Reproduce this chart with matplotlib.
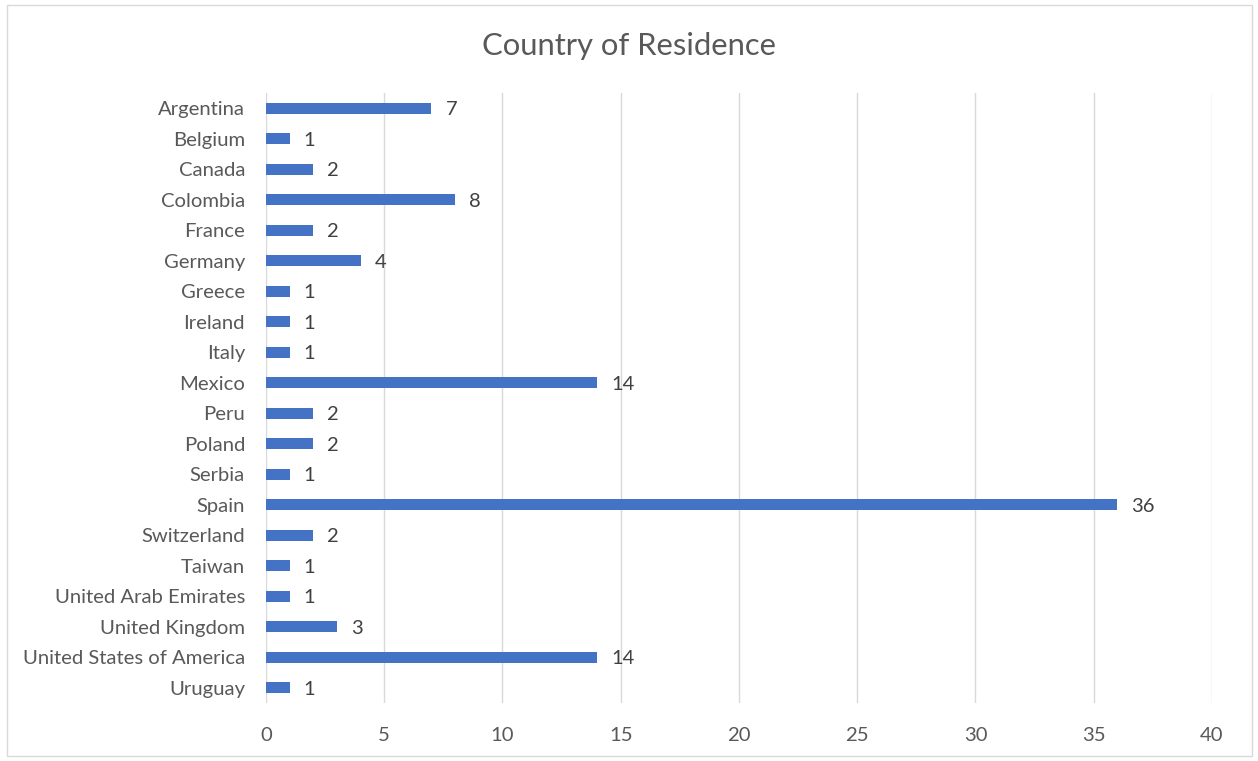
import matplotlib.pyplot as plt
from matplotlib.patches import Rectangle

countries = ["Argentina", "Belgium", "Canada", "Colombia", "France", "Germany",
             "Greece", "Ireland", "Italy", "Mexico", "Peru", "Poland", "Serbia",
             "Spain", "Switzerland", "Taiwan", "United Arab Emirates",
             "United Kingdom", "United States of America", "Uruguay"]
counts = [7, 1, 2, 8, 2, 4, 1, 1, 1, 14, 2, 2, 1, 36, 2, 1, 1, 3, 14, 1]

plt.rcParams["font.family"] = ["Lato", "DejaVu Sans"]
text_color = "#595959"

fig = plt.figure(figsize=(12.58, 7.61), dpi=100)
ax = fig.add_axes([0.2114, 0.0762, 0.752, 0.8016])

y = list(range(len(countries)))
ax.barh(y, counts, height=0.37, color="#4472c4", zorder=3)
for yi, c in zip(y, counts):
    ax.text(c + 0.6, yi, str(c), va="center_baseline", ha="left", fontsize=14.5, color="#404040")

ax.set_ylim(len(countries) - 0.5, -0.5)
ax.set_xlim(0, 40)
ax.set_xticks(range(0, 41, 5))
ax.set_yticks(y)
ax.set_yticklabels(countries)
ax.tick_params(axis="both", length=0, labelsize=14.6, labelcolor=text_color)
ax.tick_params(axis="x", pad=17)
ax.tick_params(axis="y", pad=15)
ax.grid(axis="x", color="#d9d9d9", linewidth=1, zorder=0)
for s in ax.spines.values():
    s.set_visible(False)

fig.text(0.5, 0.939, "Country of Residence", ha="center", va="center",
         fontsize=22.3, color=text_color)

fig.patches.append(Rectangle((0.0056, 0.006), 0.9896, 0.987, transform=fig.transFigure,
                             fill=False, edgecolor="#d9d9d9", linewidth=1))

fig.savefig("out.png", dpi=100)
